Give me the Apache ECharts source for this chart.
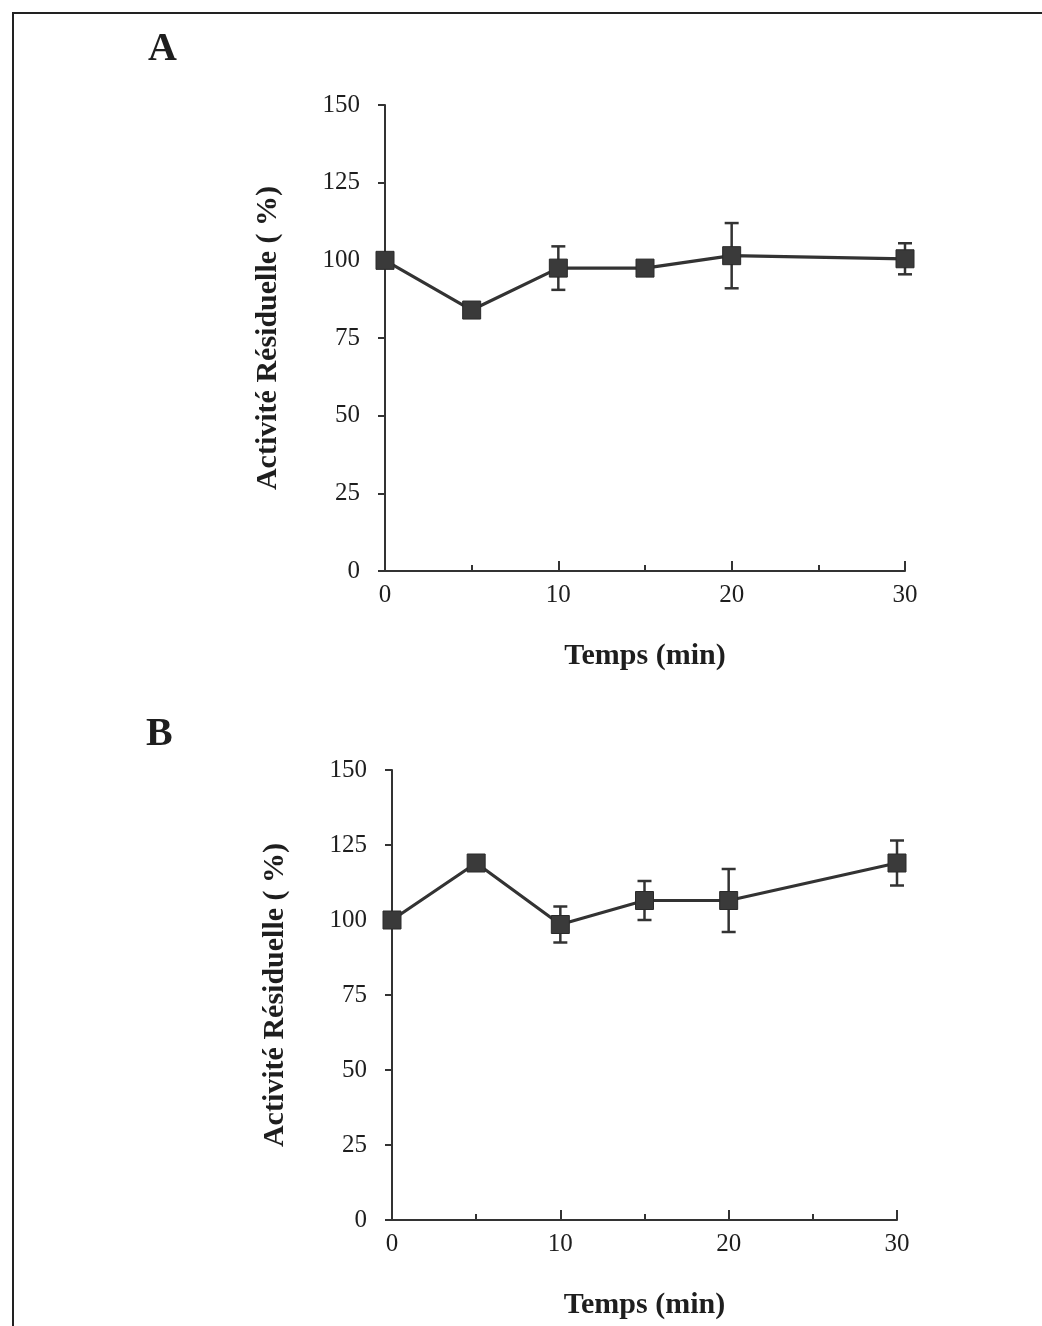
<!DOCTYPE html>
<html>
<head>
<meta charset="utf-8">
<script src="https://cdn.jsdelivr.net/npm/echarts@6/dist/echarts.min.js"></script>
<style>html,body{margin:0;padding:0;background:#fff}#c{width:1042px;height:1326px}</style>
</head>
<body>
<div id="c"></div>
<script>
const times = [0, 5, 10, 15, 20, 30];
const valuesA = [100, 84, 97.5, 97.5, 101.5, 100.5];
const errorsA = [0, 0, 7, 0, 10.5, 5];
const valuesB = [100, 119, 98.5, 106.5, 106.5, 119];
const errorsB = [0, 0, 6, 6.5, 10.5, 7.5];
const yTicks = [0, 25, 50, 75, 100, 125, 150];
const xTicks = [0, 10, 20, 30];
const panelLabels = ['A', 'B'];
const yTitle = 'Activité Résiduelle ( %)';
const xTitle = 'Temps (min)';

const ink = '#333';
const txt = '#1e1e1e';
const serif = '"Liberation Serif", "DejaVu Serif", serif';

function pts(vals) { return times.map((t, i) => [t, vals[i]]); }
function errs(vals, e) {
  const out = [];
  times.forEach((t, i) => { if (e[i] > 0) out.push([t, vals[i] - e[i], vals[i] + e[i]]); });
  return out;
}

function xAxis(idx) {
  return {
    gridIndex: idx, type: 'value', min: 0, max: 30, interval: 10,
    name: xTitle, nameLocation: 'middle', nameGap: 70,
    nameTextStyle: { fontFamily: serif, fontWeight: 'bold', fontSize: 30, color: txt },
    axisLine: { show: true, onZero: false, lineStyle: { color: ink, width: 2 } },
    axisTick: { show: true, inside: true, length: 10, lineStyle: { color: ink, width: 2 } },
    minorTick: { show: true, splitNumber: 2, length: 6, lineStyle: { color: ink, width: 2 } },
    axisLabel: { margin: 12, fontFamily: serif, fontSize: 25, color: txt },
    splitLine: { show: false }
  };
}
function yAxis(idx) {
  return {
    gridIndex: idx, type: 'value', min: 0, max: 150, interval: 25,
    name: yTitle, nameLocation: 'middle', nameGap: 102, nameRotate: 90,
    nameTextStyle: { fontFamily: serif, fontWeight: 'bold', fontSize: 30, color: txt },
    axisLine: { show: true, onZero: false, lineStyle: { color: ink, width: 2 } },
    axisTick: { show: true, inside: false, length: 7, lineStyle: { color: ink, width: 2 } },
    axisLabel: { margin: 25, fontFamily: serif, fontSize: 25, color: txt },
    splitLine: { show: false }
  };
}
function lineSeries(idx, vals) {
  return {
    type: 'line', xAxisIndex: idx, yAxisIndex: idx, data: pts(vals),
    symbol: 'rect', symbolSize: 18, showSymbol: true,
    lineStyle: { color: ink, width: 3.2 }, itemStyle: { color: '#3a3a3a', borderColor: '#2a2a2a', borderWidth: 1 },
    z: 3, animation: false
  };
}
function errSeries(idx, vals, e) {
  return {
    type: 'custom', xAxisIndex: idx, yAxisIndex: idx, data: errs(vals, e), z: 2, animation: false,
    renderItem: function (params, api) {
      const lo = api.coord([api.value(0), api.value(1)]);
      const hi = api.coord([api.value(0), api.value(2)]);
      const w = 7;
      const st = { stroke: ink, lineWidth: 2.5 };
      return { type: 'group', children: [
        { type: 'line', shape: { x1: lo[0], y1: lo[1], x2: hi[0], y2: hi[1] }, style: st },
        { type: 'line', shape: { x1: lo[0] - w, y1: lo[1], x2: lo[0] + w, y2: lo[1] }, style: st },
        { type: 'line', shape: { x1: hi[0] - w, y1: hi[1], x2: hi[0] + w, y2: hi[1] }, style: st }
      ]};
    }
  };
}

const chart = echarts.init(document.getElementById('c'), null, { renderer: 'canvas' });
chart.setOption({
  backgroundColor: '#fff',
  animation: false,
  grid: [
    { left: 385, right: 137, top: 105, bottom: 755 },
    { left: 392, right: 145, top: 770, bottom: 106 }
  ],
  xAxis: [xAxis(0), xAxis(1)],
  yAxis: [yAxis(0), yAxis(1)],
  series: [
    lineSeries(0, valuesA), errSeries(0, valuesA, errorsA),
    lineSeries(1, valuesB), errSeries(1, valuesB, errorsB)
  ],
  graphic: [
    { type: 'line', shape: { x1: 12, y1: 13, x2: 1042, y2: 13 }, style: { stroke: '#222', lineWidth: 2 } },
    { type: 'line', shape: { x1: 13, y1: 12, x2: 13, y2: 1326 }, style: { stroke: '#222', lineWidth: 2 } },
    { type: 'text', left: 148, top: 30, style: { text: panelLabels[0], font: 'bold 40px ' + serif, fill: txt } },
    { type: 'text', left: 146, top: 715, style: { text: panelLabels[1], font: 'bold 40px ' + serif, fill: txt } }
  ]
});
</script>
</body>
</html>
